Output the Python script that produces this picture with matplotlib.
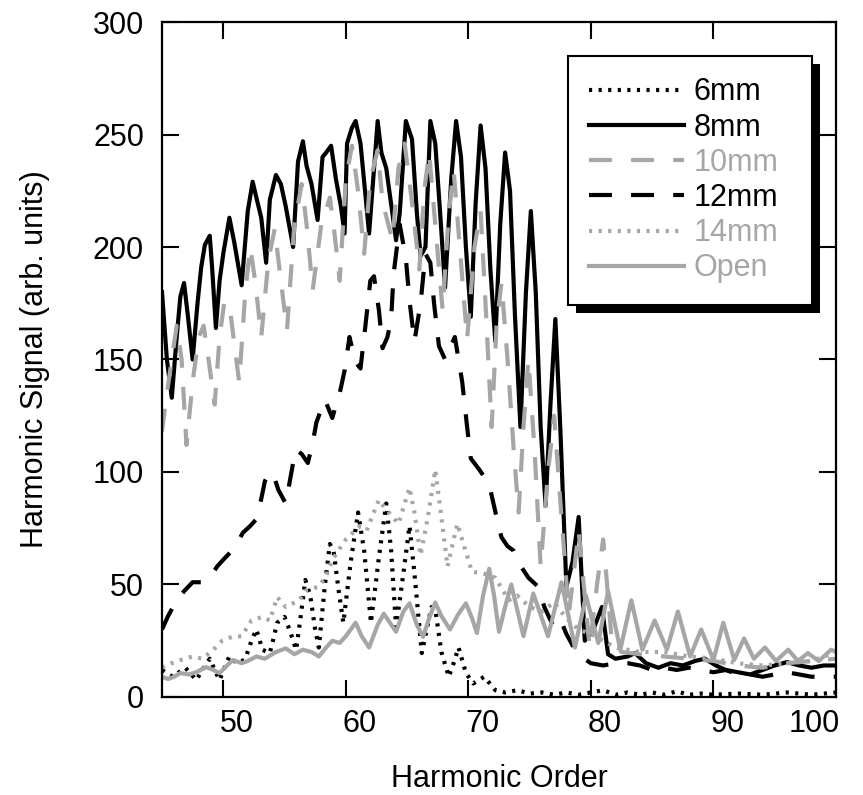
import numpy as np
import matplotlib.pyplot as plt
from matplotlib.patches import Rectangle
from matplotlib.transforms import ScaledTranslation

plt.rcParams['font.family'] = ['Liberation Sans', 'DejaVu Sans']

GRAY = '#a6a6a6'

# 6mm (black dotted)
x6 = [45.0, 45.5, 45.9, 46.4, 46.9, 47.4, 47.8, 48.3, 48.9, 49.3, 49.7, 50.1, 50.5, 50.9, 51.3,
      51.8, 52.3, 52.7, 53.2, 53.8, 54.1, 54.4, 55.0, 55.4, 55.95, 56.3, 56.7, 57.1, 57.5, 57.8,
      58.3, 58.7, 59.0, 59.4, 59.8, 60.4, 61.0, 61.5, 62.05, 62.7, 63.3, 63.7, 64.1, 64.7, 65.2,
      65.6, 66.2, 66.6, 67.0, 67.3, 67.8, 68.4, 68.8, 69.2, 69.8, 70.4, 71.3, 72.2, 73, 74, 75,
      76, 77, 78, 79, 80, 81, 82, 83, 84, 85, 86, 87, 88, 89, 90, 92, 94, 96, 98, 100]
y6 = [12, 10, 9, 11, 13, 10, 7.5, 12, 17, 12, 7.5, 13, 18, 16, 15,
      17, 25, 30, 21, 19.5, 26, 33, 35.6, 30, 21, 35, 52, 45, 30, 22,
      50, 68, 65, 48, 33, 60, 82, 65, 33, 62, 86, 65, 31, 55, 76,
      55, 19.5, 30, 40, 39, 20, 9, 15, 22, 10.7, 6, 9, 3, 2, 3, 1.5,
      2, 1, 2, 1, 2, 3, 1, 2, 1, 2, 1, 2.5, 1, 1.5, 1, 1.5, 1, 2, 1, 2]

# 8mm (black solid)
x8 = [45.0, 45.4, 45.8, 46.2, 46.5, 46.8, 47.1, 47.5, 47.9, 48.2, 48.5, 48.9, 49.1, 49.4, 49.7,
      50.0, 50.5, 50.9, 51.5, 52.0, 52.4, 52.7, 53.1, 53.5, 53.8, 54.3, 54.7, 55.1, 55.7, 56.1,
      56.5, 56.8, 57.2, 57.7, 58.1, 58.4, 58.8, 59.2, 59.6, 59.9, 60.1, 60.5, 60.8, 61.2, 61.9,
      62.6, 62.9, 63.3, 64.1, 64.4, 64.9, 65.4, 65.8, 66.1, 66.5, 66.9, 67.3, 67.7, 68.1, 68.6,
      69.0, 69.4, 69.8, 70.2, 70.6, 71.0, 71.4, 71.8, 72.2, 72.6, 73.0, 73.4, 73.8, 74.25, 74.7,
      75.1, 75.5, 75.9, 76.3, 76.7, 77.1, 77.5, 78.0, 78.5, 79.0, 79.5, 80.2, 80.9, 81.4, 82.0,
      83.0, 83.6, 84.5, 85.5, 86.5, 87.5, 88.5, 89.3, 90.2, 91.0, 92.0, 93.0, 94.0, 95.0, 96.0,
      97.0, 98.0, 99.0, 100.0]
y8 = [180, 150, 133, 160, 178, 184, 170, 150, 175, 191, 201, 205, 190, 164, 185,
      197, 213, 202, 183, 216, 229, 222, 213, 193, 221, 232, 228, 218, 200, 238,
      247, 236, 228, 212, 240, 242, 245, 230, 218, 206, 246, 253, 256, 246, 206,
      256, 242, 235, 203, 215, 256, 248, 215, 196, 200, 256, 246, 215, 182, 230,
      256, 240, 200, 169, 220, 254, 235, 190, 158, 210, 242, 225, 170, 120, 180,
      216, 180, 120, 85, 130, 168, 120, 49, 60, 80, 25, 30, 40, 19, 17,
      18, 19.5, 15, 13, 15, 14, 16, 17, 14, 12, 11, 10, 12, 14, 15.5,
      14, 13, 14, 14]

# 10mm (gray dashed)
x10 = [45.0, 45.4, 45.8, 46.2, 46.6, 47.0, 47.5, 48.0, 48.4, 48.8, 49.3, 49.7, 50.1, 50.6, 51.3,
       51.8, 52.2, 52.6, 53.1, 53.7, 54.2, 54.7, 55.2, 55.8, 56.4, 56.8, 57.3, 58.0, 58.7, 59.1,
       59.5, 60.0, 60.5, 61.0, 61.5, 62.0, 62.6, 63.0, 63.8, 64.3, 64.8, 65.4, 66.0, 66.4, 66.8,
       67.3, 67.9, 68.4, 68.8, 69.3, 69.9, 70.5, 71.0, 71.4, 71.9, 72.3, 72.7, 73.2, 73.7, 74.1,
       74.5, 74.9, 75.4, 75.9, 76.5, 77.0, 77.6, 78.2, 78.6, 79.0, 79.5, 79.9, 80.5, 81.0, 81.4,
       81.7, 82.5, 84, 86, 88, 90, 92, 94, 96, 98, 100]
y10 = [118, 135, 150, 165, 150, 112, 140, 160, 165, 150, 130, 160, 176, 170, 140,
       180, 200, 185, 160, 195, 208, 185, 163, 210, 228, 210, 181, 210, 222, 205,
       185, 230, 245, 225, 197, 230, 243, 220, 203, 235, 246, 220, 190, 225, 242,
       210, 172, 215, 234, 200, 159, 200, 216, 175, 120, 165, 184, 150, 110, 82,
       120, 150, 110, 58, 100, 125, 80, 37, 55, 74, 45, 22, 50, 70, 45,
       25, 20, 19, 18, 17, 16, 14, 13, 15, 16, 17]

# 12mm (black dashed)
x12 = [45.0, 45.5, 46.2, 46.8, 47.5, 48.2, 48.9, 49.5, 50.0, 50.7, 51.2, 51.6, 52.2, 52.7, 53.1,
       53.4, 53.8, 54.2, 54.5, 55.1, 55.5, 55.9, 56.4, 56.9, 57.3, 57.6, 58.0, 58.3, 58.6, 58.9,
       59.2, 59.5, 59.9, 60.3, 60.6, 60.9, 61.2, 61.6, 62.0, 62.3, 62.7, 63.0, 63.4, 63.7, 63.9,
       64.4, 64.9, 65.2, 65.6, 66.1, 66.5, 66.9, 67.2, 67.6, 68.1, 68.5, 68.9, 69.5, 69.9, 70.2,
       70.9, 71.4, 71.8, 72.3, 72.7, 73.2, 73.7, 74.3, 74.9, 75.3, 75.7, 76.2, 76.8, 77.4, 78.0,
       78.6, 79.2, 80, 81, 82, 83, 84, 85, 86, 87, 88, 89, 90, 91, 92, 93, 94, 95, 96, 97, 98, 99, 100]
y12 = [30, 36, 43, 47, 51, 51, 53, 58, 61, 65, 69, 73, 76, 79, 88,
       96, 100, 97, 92, 86, 98, 110, 108, 104, 113, 122, 128, 132, 128, 124,
       130, 135, 145, 160, 153, 148, 146, 165, 185, 187, 172, 155, 160, 168, 188,
       210, 195, 176, 158, 175, 197, 193, 175, 156, 150, 155, 160, 140, 120, 106,
       101, 97, 92, 80, 71, 67, 65, 58, 53, 51, 49, 40, 33, 36, 28,
       22, 18, 15, 14, 15, 15, 14, 12, 13, 12, 13, 12, 11, 12, 10, 10, 9, 10, 11, 10, 9, 9, 9]

# 14mm (gray dotted)
x14 = [45.0, 45.8, 46.5, 47.5, 48.3, 49.2, 49.9, 50.7, 51.5, 52.3, 53.2, 53.8, 54.4, 55.1, 56.2,
       56.8, 57.8, 58.4, 58.9, 60.0, 61.1, 61.7, 62.7, 63.2, 64.3, 65.2, 65.6, 66.1, 66.7, 67.3,
       67.8, 68.3, 69.1, 69.6, 70.3, 71.2, 72.2, 73.3, 74, 75, 76, 77, 78, 79, 80,
       81, 82, 84, 86, 88, 90, 92, 94, 96, 98, 100]
y14 = [13, 15, 16.4, 18, 17, 21, 25, 26.7, 27, 34, 35.6, 34, 44.4, 40, 43,
       47.6, 49, 54, 61, 70, 75.6, 74, 87.6, 84, 77, 93, 82, 63, 80, 101,
       80, 58, 77, 68, 55.6, 55, 53, 43, 45, 40, 38, 42, 35, 30, 28,
       25, 22, 20, 20, 18, 17, 15, 14, 15, 16, 20]

# Open (gray solid)
xo = [45.0, 45.5, 46.0, 46.5, 47.2, 47.8, 48.6, 49.2, 49.7, 50.3, 50.8, 51.5, 52.0, 52.7, 53.4,
      54.3, 55.1, 55.8, 56.5, 57.2, 57.8, 58.4, 58.9, 59.5, 60.0, 60.8, 61.3, 61.9, 62.6, 63.1,
      63.6, 64.1, 64.7, 65.2, 65.8, 66.3, 66.8, 67.3, 67.8, 68.5, 69.2, 69.8, 70.3, 70.7, 71.2,
      71.7, 72.1, 72.5, 73.0, 73.5, 74.5, 75.3, 76.5, 77.6, 78.7, 79.6, 80.6, 81.4, 82.4, 83.3,
      84.2, 85.2, 86.2, 87.1, 88.1, 89.0, 90.0, 90.8, 91.7, 92.5, 93.3, 94.2, 95.1, 96.1, 96.9,
      97.7, 98.6, 99.6, 100.0]
yo = [9, 8, 9, 10.6, 10, 11, 13.3, 12, 10.6, 14, 16.4, 15, 16, 18, 17,
      20, 21.6, 19, 21, 20, 18, 22, 25, 24, 27, 33, 27, 22, 32, 37,
      33, 29, 38, 41.6, 32, 26.7, 35, 42, 36, 30, 37, 41.6, 35, 28.4, 45,
      57, 45, 29, 40, 50, 27, 46, 27, 51, 22, 45, 24, 47, 21, 43,
      21, 34, 21, 38, 18, 30, 16.5, 33, 16.5, 26, 17, 22, 16, 21, 16,
      19.5, 16, 21, 20]

labels = ['6mm', '8mm', '10mm', '12mm', '14mm', 'Open']
xticks = [50, 60, 70, 80, 90, 100]
yticks = [0, 50, 100, 150, 200, 250, 300]

fig = plt.figure(figsize=(8.63, 7.95), dpi=100)
ax = fig.add_axes([0.1877, 0.1233, 0.7810, 0.8490])

lw = 3.0
dash = (0, (5.5, 4.6))
dot = (0, (0.75, 1.55))
ax.plot(x6, y6, color='black', lw=lw, linestyle=dot, label=labels[0])
ax.plot(x8, y8, color='black', lw=lw, linestyle='-', label=labels[1])
ax.plot(x10, y10, color=GRAY, lw=lw, linestyle=dash, label=labels[2])
ax.plot(x12, y12, color='black', lw=lw, linestyle=dash, label=labels[3])
ax.plot(x14, y14, color=GRAY, lw=lw, linestyle=dot, label=labels[4])
ax.plot(xo, yo, color=GRAY, lw=lw, linestyle='-', label=labels[5])

ax.set_xlim(45, 100)
ax.set_ylim(0, 300)
ax.set_xticks(xticks)
ax.set_yticks(yticks)
ax.tick_params(direction='in', length=12, width=1.5, labelsize=22,
               top=True, right=True)
ax.tick_params(axis='x', pad=9)
ax.tick_params(axis='y', pad=13)
for s in ax.spines.values():
    s.set_linewidth(1.6)

# x tick labels sit a little right of their ticks; the last one ends at the spine
for lab, v in zip(ax.get_xticklabels(), xticks):
    off = -22 if v == 100 else 14
    lab.set_transform(lab.get_transform() + ScaledTranslation(off / 100, 0, fig.dpi_scale_trans))

ax.set_xlabel('Harmonic Order', fontsize=22, labelpad=18)
ax.set_ylabel('Harmonic Signal (arb. units)', fontsize=22, labelpad=31)

leg = ax.legend(loc='upper left', bbox_to_anchor=(0.6024, 0.5, 0.362, 0.4496),
                mode='expand', fontsize=22,
                handlelength=3.1, handletextpad=0.3, labelspacing=0.17,
                borderpad=0.7, borderaxespad=0, fancybox=False, framealpha=1,
                edgecolor='black',
                labelcolor=['black', 'black', GRAY, 'black', GRAY, GRAY])
leg.get_frame().set_linewidth(1.5)

# drop shadow behind the legend box
fig.canvas.draw()
bb = leg.get_frame().get_window_extent()
(x0, y0), (x1, y1) = ax.transAxes.inverted().transform([[bb.x0, bb.y0], [bb.x1, bb.y1]])
dx = 8 / (ax.bbox.width)
dy = 8 / (ax.bbox.height)
ax.add_patch(Rectangle((x0 + dx, y0 - dy), x1 - x0, y1 - y0, transform=ax.transAxes,
                       facecolor='black', edgecolor='none', zorder=4.9, clip_on=False))

fig.savefig('out.png', dpi=100)
